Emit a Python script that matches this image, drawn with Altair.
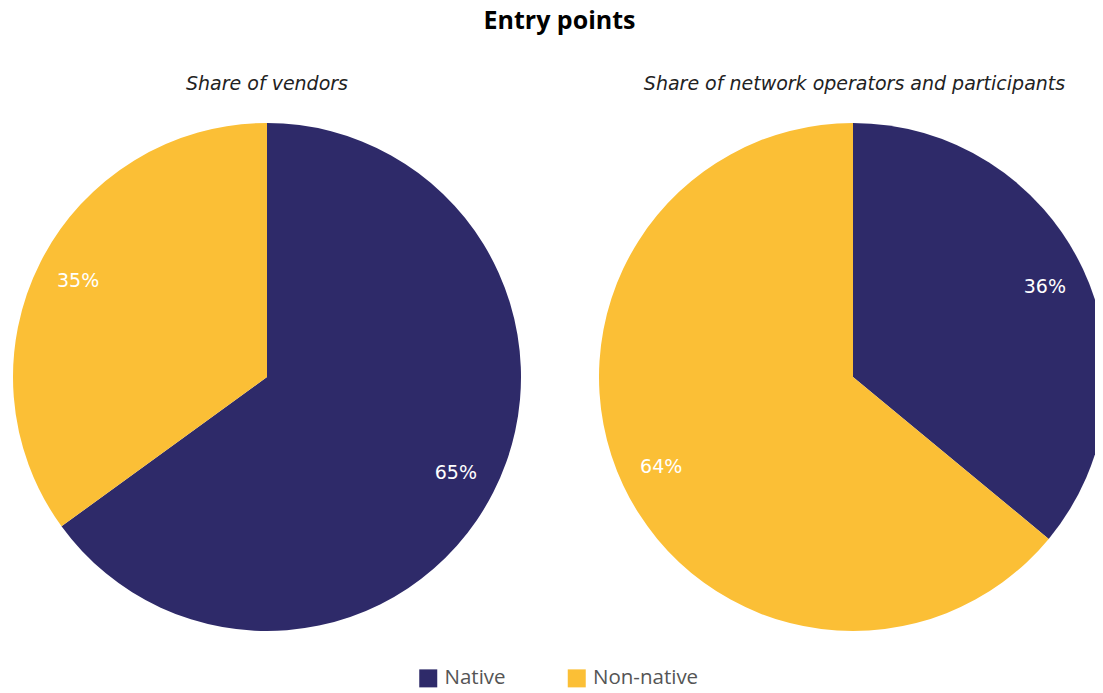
import altair as alt
import pandas as pd

categories = ["Native", "Non-native"]
colors = ["#2E2A69", "#FBBF36"]
panel_titles = ["Share of vendors", "Share of network operators and participants"]
vendors = [65, 35]
operators = [36, 64]

TITLE_FONT = "Open Sans"
TEXT_FONT = "DejaVu Sans"


def make_df(values):
    return pd.DataFrame({
        "category": categories,
        "value": values,
        "order": list(range(len(categories))),
        "label": [f"{v}%" for v in values],
    })


def pie(values, title, width, shift=0, title_dx=0):
    df = make_df(values)
    base = alt.Chart(df).encode(
        theta=alt.Theta("value:Q", stack=True),
        order=alt.Order("order:Q"),
    )
    arc = base.mark_arc(outerRadius=254, clip=True, xOffset=shift).encode(
        color=alt.Color("category:N",
                        scale=alt.Scale(domain=categories, range=colors),
                        legend=alt.Legend(title=None))
    )
    text = base.mark_text(radius=212, fontSize=19, font=TEXT_FONT, color="white",
                          xOffset=shift).encode(
        text="label:N"
    )
    return (arc + text).properties(
        width=width, height=510,
        title=alt.TitleParams(title, font=TEXT_FONT, fontSize=19, fontStyle="italic",
                              fontWeight="normal", color="#222222", offset=28.5,
                              dx=title_dx),
    )


left = pie(vendors, panel_titles[0], 518)
right = pie(operators, panel_titles[1], 496, shift=6, title_dx=7.5)

chart = alt.hconcat(left, right, spacing=73).properties(
    title=alt.TitleParams("Entry points", font=TITLE_FONT, fontSize=25, fontWeight="bold",
                          color="#000000", anchor="middle", offset=41, dx=8),
    padding=0,
).configure_view(stroke=None).configure_legend(
    orient="none", legendX=410, legendY=546, direction="horizontal", padding=0,
    symbolType="square", symbolSize=324, symbolStrokeWidth=0,
    labelFontSize=20.5, labelFont=TITLE_FONT, labelColor="#555555",
    columnPadding=60.5, labelOffset=6,
)

chart.save("out.html", embed_options={"renderer": "svg", "actions": False})
